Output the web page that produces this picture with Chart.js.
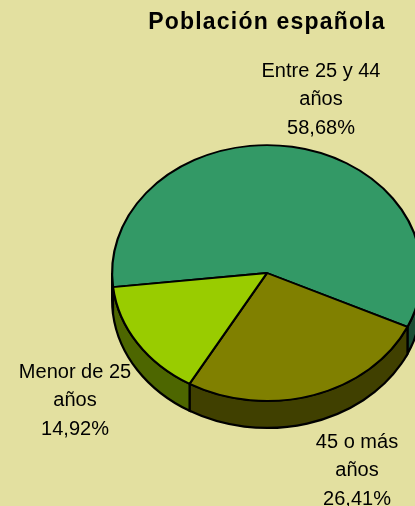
<!DOCTYPE html>
<html>
<head>
<meta charset="utf-8">
<title>Población española</title>
<script src="https://cdn.jsdelivr.net/npm/chart.js@4/dist/chart.umd.min.js"></script>
<style>
html,body{margin:0;padding:0;width:415px;height:506px;overflow:hidden;background:#E3E0A0;}
canvas{display:block;}
</style>
</head>
<body>
<canvas id="pieChart" width="440" height="506"></canvas>
<script>

//=============================
// DATA
//=============================

const chartTitle = "Población española";

const categories = ["Entre 25 y 44 años", "45 o más años", "Menor de 25 años"];

const labelLines = [
    ["Entre 25 y 44", "años"],
    ["45 o más", "años"],
    ["Menor de 25", "años"]
];

const values = [58.68, 26.41, 14.92];

const sliceColors = ["#339966", "#808000", "#99CC00"];

const sideColors = ["#1A4D33", "#404000", "#4D6600"];

//=============================
// 3D LOOK
//=============================

const tilt = 0.826;
const depth = 27;

function tiltAround(ctx, el){
    ctx.translate(el.x, el.y);
    ctx.scale(1, tilt);
    ctx.translate(-el.x, -el.y);
}

const pie3d = {
    id: "pie3d",

    beforeDraw(chart){
        chart.ctx.letterSpacing = "1.2px";
    },

    beforeDatasetsDraw(chart){
        const ctx = chart.ctx;
        ctx.letterSpacing = "0px";
        const arcs = chart.getDatasetMeta(0).data;

        ctx.save();

        // only the front half of the rim can be seen
        arcs.forEach((arc, i) => {
            [0, Math.PI * 2].forEach(turn => {
                const a = Math.max(arc.startAngle, turn);
                const b = Math.min(arc.endAngle, turn + Math.PI);
                if(a >= b) return;

                ctx.save();
                tiltAround(ctx, arc);
                ctx.beginPath();
                ctx.arc(arc.x, arc.y, arc.outerRadius, a, b);
                ctx.arc(arc.x, arc.y + depth / tilt, arc.outerRadius, b, a, true);
                ctx.closePath();
                ctx.restore();

                ctx.fillStyle = sideColors[i];
                ctx.fill();
                ctx.lineWidth = 2.2;
                ctx.strokeStyle = "#000";
                ctx.stroke();
            });
        });

        tiltAround(ctx, arcs[0]);
    },

    afterDatasetsDraw(chart){
        chart.ctx.restore();
    },

    afterDraw(chart){
        const ctx = chart.ctx;
        const spots = [[321, 71], [357, 442], [75, 372]];

        ctx.save();
        ctx.font = "20px 'Liberation Sans'";
        ctx.fillStyle = "#000";
        ctx.textAlign = "center";
        ctx.textBaseline = "middle";

        values.forEach((v, i) => {
            const lines = labelLines[i].concat(v.toFixed(2).replace(".", ",") + "%");
            lines.forEach((line, n) => {
                ctx.fillText(line, spots[i][0], spots[i][1] + n * 28.5);
            });
        });

        ctx.restore();
    }
};

//=============================
// CHART
//=============================

new Chart(document.getElementById("pieChart"), {

    type: "pie",

    data: {
        labels: categories,
        datasets: [{
            data: values,
            backgroundColor: sliceColors,
            borderColor: "#000",
            borderWidth: 2.2,
            borderAlign: "center",
            clip: false
        }]
    },

    options: {
        responsive: false,
        animation: false,
        rotation: 263.7,
        layout: {
            padding: { left: 111, right: 17, top: 9, bottom: 77 }
        },
        plugins: {
            legend: { display: false },
            tooltip: { enabled: false },
            title: {
                display: true,
                text: chartTitle,
                fullSize: false,
                color: "#000",
                font: { family: "'Liberation Sans'", size: 23, weight: "bold", lineHeight: 1.2 },
                padding: { top: 0, bottom: 80.4 }
            }
        }
    },

    plugins: [pie3d]

});

</script>
</body>
</html>
